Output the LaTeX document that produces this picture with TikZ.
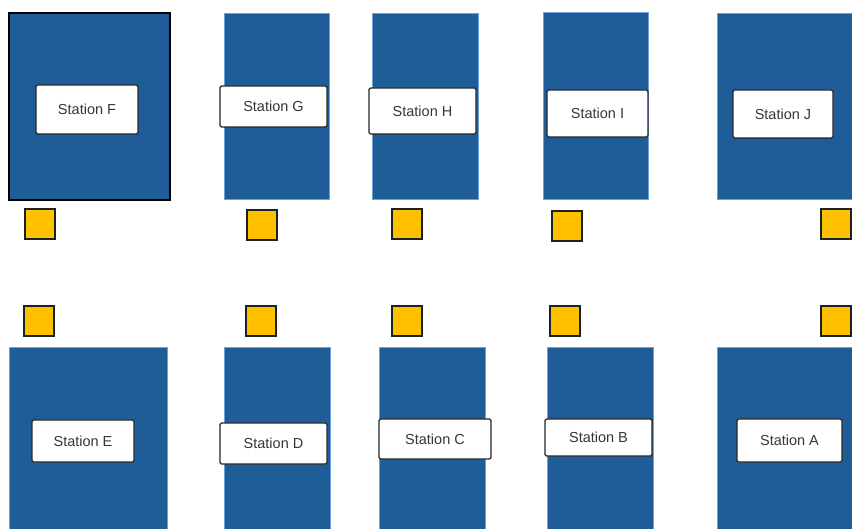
\documentclass[tikz,border=0pt]{standalone}
\usepackage{fontspec}
\setmainfont{Liberation Sans}
\definecolor{baybl}{RGB}{31,93,153}
\definecolor{bayedge}{RGB}{110,160,215}
\definecolor{padyel}{RGB}{255,192,0}
\definecolor{paded}{RGB}{25,35,35}
\definecolor{txtgr}{RGB}{55,55,55}
\begin{document}
\begin{tikzpicture}[x=1pt,y=-1pt,
  bay/.style={fill=baybl,draw=bayedge,line width=1pt,inner sep=0pt,outer sep=0pt},
  bayF/.style={bay,draw=black,line width=2pt},
  lbl/.style={fill=white,draw=black!85,line width=1.3pt,rounded corners=1.5pt,inner sep=0pt,outer sep=0pt,
    text=txtgr,font=\fontsize{14.5}{16}\selectfont},
  pad/.style={fill=padyel,draw=paded,line width=2pt,inner sep=0pt,outer sep=0pt,minimum width=30pt,minimum height=30pt}]
\useasboundingbox (0,0) rectangle (852,529);
% top row bays
\node[bayF,minimum width=161pt,minimum height=187pt] (bF) at (89.5,106.5) {};
\node[bay,minimum width=105pt,minimum height=186pt] (bG) at (276.5,107) {};
\node[bay,minimum width=106pt,minimum height=186pt] (bH) at (425,107) {};
\node[bay,minimum width=105pt,minimum height=187pt] (bI) at (595.5,106.5) {};
\node[bay,minimum width=153pt,minimum height=186pt] (bJ) at (793.5,107) {};
% bottom row bays
\node[bay,minimum width=158pt,minimum height=192pt] (bE) at (88,444) {};
\node[bay,minimum width=106pt,minimum height=192pt] (bD) at (277,444) {};
\node[bay,minimum width=106pt,minimum height=192pt] (bC) at (432,444) {};
\node[bay,minimum width=106pt,minimum height=192pt] (bB) at (600,444) {};
\node[bay,minimum width=153pt,minimum height=192pt] (bA) at (793.5,444) {};
% labels
\node[lbl,minimum width=102pt,minimum height=49pt] (lF) at (87,109.5) {Station F};
\node[lbl,minimum width=107pt,minimum height=41pt] (lG) at (273.5,106.5) {Station G};
\node[lbl,minimum width=107pt,minimum height=46pt] (lH) at (422.5,111) {Station H};
\node[lbl,minimum width=101pt,minimum height=47pt] (lI) at (597.5,113.5) {Station I};
\node[lbl,minimum width=100pt,minimum height=48pt] (lJ) at (783,114) {Station J};
\node[lbl,minimum width=102pt,minimum height=42pt] (lE) at (83,441) {Station E};
\node[lbl,minimum width=107pt,minimum height=41pt] (lD) at (273.5,443.5) {Station D};
\node[lbl,minimum width=112pt,minimum height=40pt] (lC) at (435,439) {Station C};
\node[lbl,minimum width=107pt,minimum height=37pt] (lB) at (598.5,437.5) {Station B};
\node[lbl,minimum width=105pt,minimum height=43pt] (lA) at (789.5,440.5) {Station A};
% pads top
\node[pad] (pF) at (39.5,224) {};
\node[pad] (pG) at (261.5,225.5) {};
\node[pad] (pH) at (406.5,224.5) {};
\node[pad] (pI) at (567,226) {};
\node[pad] (pJ) at (836,224.5) {};
% pads bottom
\node[pad] (pE) at (38.5,321) {};
\node[pad] (pD) at (261,321.5) {};
\node[pad] (pC) at (407,321) {};
\node[pad] (pB) at (565,321) {};
\node[pad] (pA) at (836,321) {};
\end{tikzpicture}
\end{document}
